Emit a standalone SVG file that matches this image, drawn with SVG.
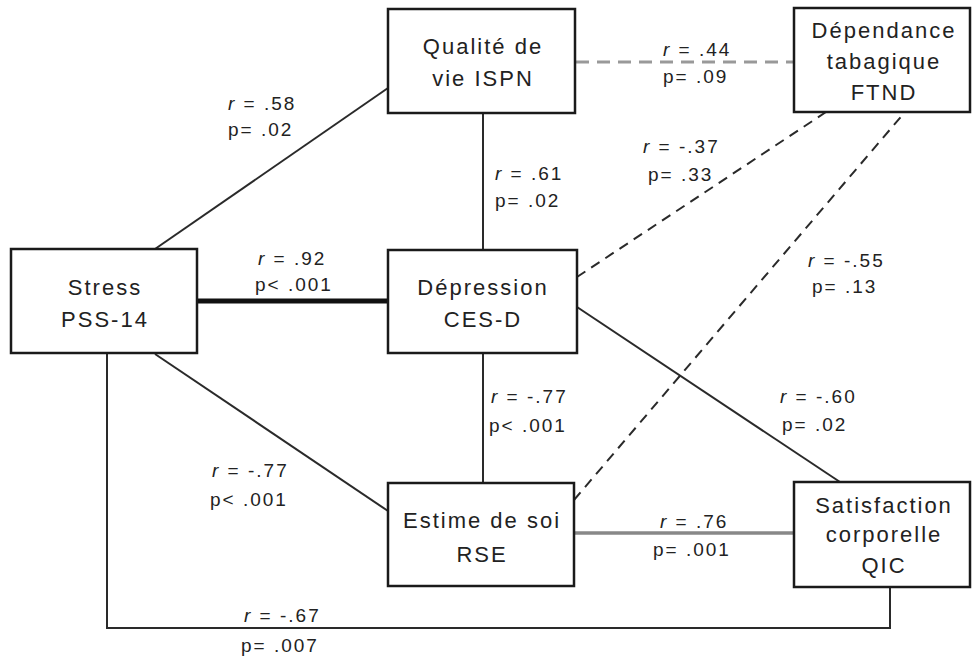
<svg xmlns="http://www.w3.org/2000/svg" width="973" height="657" viewBox="0 0 973 657">
<style>
.box{fill:#fff;stroke:#1a1a1a;stroke-width:2.5}
.nt{font-family:"Liberation Sans",Arial,sans-serif;font-size:22px;letter-spacing:2px;fill:#222;text-anchor:middle}
.lb{font-family:"Liberation Sans",Arial,sans-serif;font-size:19px;letter-spacing:2px;fill:#222}
.it{font-style:italic}
.solid{fill:none;stroke:#2a2a2a;stroke-width:2}
.dash{fill:none;stroke:#2a2a2a;stroke-width:2;stroke-dasharray:10 7}
.gdash{fill:none;stroke:#999;stroke-width:3;stroke-dasharray:13 8}
.gray{fill:none;stroke:#888;stroke-width:3.5}
.thick{fill:none;stroke:#111;stroke-width:5}
</style>
<rect width="973" height="657" fill="#fff"/>
<g id="connectors">
<line class="solid" x1="155" y1="249" x2="388" y2="88"/>
<line class="gdash" x1="576" y1="62" x2="794" y2="62"/>
<line class="solid" x1="483" y1="113" x2="483" y2="250"/>
<line class="dash" x1="577" y1="277" x2="826" y2="112"/>
<line class="dash" x1="574" y1="500" x2="905" y2="112"/>
<line class="thick" x1="197" y1="301" x2="388" y2="301"/>
<line class="solid" x1="577" y1="307" x2="840" y2="482"/>
<line class="solid" x1="483" y1="353" x2="483" y2="483"/>
<line class="solid" x1="155" y1="354" x2="388" y2="511"/>
<line class="gray" x1="574" y1="533" x2="794" y2="533"/>
<polyline class="solid" points="107,353 107,628 890,628 890,587"/>
</g>
<g id="labels">
<text class="lb" x="228" y="110"><tspan class="it">r</tspan> = .58</text>
<text class="lb" x="228" y="136">p= .02</text>
<text class="lb" x="663" y="56"><tspan class="it">r</tspan> = .44</text>
<text class="lb" x="663" y="83">p= .09</text>
<text class="lb" x="495" y="180"><tspan class="it">r</tspan> = .61</text>
<text class="lb" x="495" y="207">p= .02</text>
<text class="lb" x="643" y="153"><tspan class="it">r</tspan> = -.37</text>
<text class="lb" x="648" y="181">p= .33</text>
<text class="lb" x="808" y="267"><tspan class="it">r</tspan> = -.55</text>
<text class="lb" x="812" y="293">p= .13</text>
<text class="lb" x="258" y="265"><tspan class="it">r</tspan> = .92</text>
<text class="lb" x="255" y="291">p&lt; .001</text>
<text class="lb" x="491" y="403"><tspan class="it">r</tspan> = -.77</text>
<text class="lb" x="489" y="432">p&lt; .001</text>
<text class="lb" x="212" y="477"><tspan class="it">r</tspan> = -.77</text>
<text class="lb" x="210" y="506">p&lt; .001</text>
<text class="lb" x="780" y="403"><tspan class="it">r</tspan> = -.60</text>
<text class="lb" x="782" y="431">p= .02</text>
<text class="lb" x="660" y="528"><tspan class="it">r</tspan> = .76</text>
<text class="lb" x="653" y="556">p= .001</text>
<text class="lb" x="244" y="622"><tspan class="it">r</tspan> = -.67</text>
<text class="lb" x="241" y="652">p= .007</text>
</g>
<g id="qualite">
<rect class="box" x="388" y="9" width="187" height="104"/>
<text class="nt" x="483" y="54">Qualité de</text>
<text class="nt" x="483" y="86">vie ISPN</text>
</g>
<g id="dependance">
<rect class="box" x="794" y="8" width="176" height="104"/>
<text class="nt" x="884" y="38">Dépendance</text>
<text class="nt" x="884" y="69">tabagique</text>
<text class="nt" x="884" y="100">FTND</text>
</g>
<g id="stress">
<rect class="box" x="11" y="249" width="186" height="104"/>
<text class="nt" x="105" y="295">Stress</text>
<text class="nt" x="105" y="327">PSS-14</text>
</g>
<g id="depression">
<rect class="box" x="388" y="250" width="189" height="103"/>
<text class="nt" x="483" y="295">Dépression</text>
<text class="nt" x="483" y="327">CES-D</text>
</g>
<g id="estime">
<rect class="box" x="388" y="483" width="186" height="103"/>
<text class="nt" x="482" y="528">Estime de soi</text>
<text class="nt" x="482" y="562">RSE</text>
</g>
<g id="satisfaction">
<rect class="box" x="794" y="482" width="176" height="105"/>
<text class="nt" x="884" y="513">Satisfaction</text>
<text class="nt" x="884" y="542">corporelle</text>
<text class="nt" x="884" y="573">QIC</text>
</g>
</svg>
